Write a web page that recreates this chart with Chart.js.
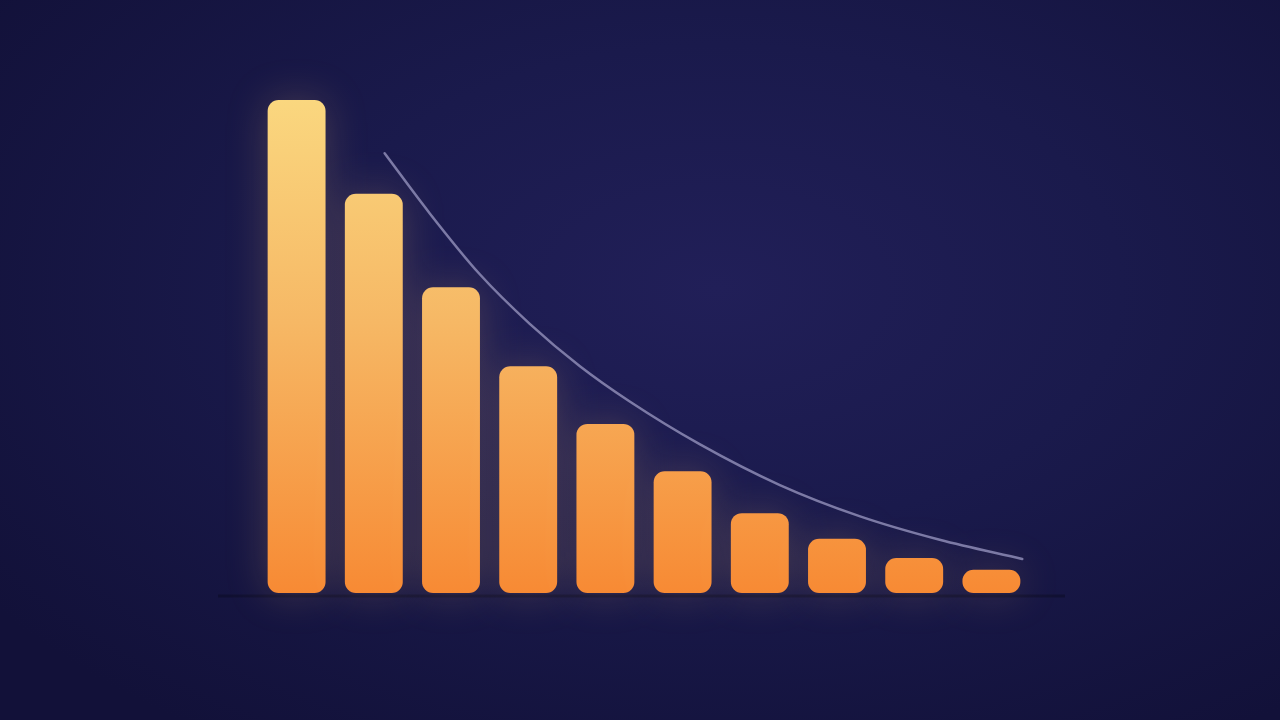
<!DOCTYPE html>
<html>
<head>
<meta charset="utf-8">
<script src="https://cdn.jsdelivr.net/npm/chart.js@4"></script>
<style>
  html, body { margin: 0; padding: 0; }
  body {
    width: 1280px; height: 720px; overflow: hidden;
    background: radial-gradient(ellipse 70% 75% at 56% 40%, #211f58 0%, #1a1a4c 45%, #121139 100%);
  }
  #wrap { position: relative; width: 1280px; height: 720px; }
</style>
</head>
<body>
<div id="wrap"><canvas id="chart"></canvas></div>
<script>
// Bar categories and heights (top bar = 100)
const categories = ['1', '2', '3', '4', '5', '6', '7', '8', '9', '10'];
const barValues = [100, 81, 62, 46, 34.3, 24.7, 16.2, 11, 7.1, 4.7];

// Trend curve, x in category-index units
const curveX = [1.14, 1.72, 2.37, 3.02, 3.67, 4.31, 5.22, 6.26, 7.29, 8.33, 9.40];
const curveY = [89.2, 77.1, 64.7, 54.6, 46.0, 38.9, 30.2, 21.9, 15.6, 10.8, 6.9];

// vertical gradient across the plot, yellow at top to orange at base
function barGradient(context) {
    const chart = context.chart;
    const area = chart.chartArea;
    if (!area) return '#f7a04a';
    const g = chart.ctx.createLinearGradient(0, area.top, 0, area.bottom);
    g.addColorStop(0, '#fad77f');
    g.addColorStop(0.45, '#f6b865');
    g.addColorStop(1, '#f78a34');
    return g;
}

// soft glow behind bars + dark baseline
const glowPlugin = {
    id: 'glow',
    beforeDatasetDraw(chart, args) {
        if (args.index !== 0) return;
        const ctx = chart.ctx;
        ctx.save();
        ctx.shadowColor = 'rgba(250, 190, 110, 0.2)';
        ctx.shadowBlur = 40;
    },
    afterDatasetDraw(chart, args) {
        if (args.index !== 0) return;
        chart.ctx.restore();
    },
    beforeDatasetsDraw(chart) {
        const ctx = chart.ctx;
        const area = chart.chartArea;
        const y = chart.scales.y.getPixelForValue(0) + 3;
        ctx.save();
        ctx.strokeStyle = 'rgba(8, 8, 30, 0.45)';
        ctx.lineWidth = 3;
        ctx.beginPath();
        ctx.moveTo(area.left - 40, y);
        ctx.lineTo(area.right + 35, y);
        ctx.stroke();
        ctx.restore();
    }
};

const ctx = document.getElementById('chart');
new Chart(ctx, {
    data: {
        labels: categories,
        datasets: [{
            type: 'bar',
            data: barValues,
            backgroundColor: barGradient,
            borderRadius: 11,
            borderSkipped: false,
            grouped: false,
            barPercentage: 0.75,
            categoryPercentage: 1,
            clip: false,
            order: 2
        }, {
            type: 'line',
            xAxisID: 'x2',
            data: curveX.map((x, i) => ({ x: x, y: curveY[i] })),
            borderColor: 'rgba(135, 133, 175, 0.9)',
            borderWidth: 2.5,
            borderCapStyle: 'round',
            pointRadius: 0,
            cubicInterpolationMode: 'monotone',
            fill: false,
            clip: false,
            order: 1
        }]
    },
    options: {
        responsive: true,
        maintainAspectRatio: false,
        animation: false,
        layout: { padding: { left: 258, right: 250, top: 100, bottom: 127 } },
        scales: {
            x: { display: false, offset: true },
            x2: { type: 'linear', display: false, min: -0.5, max: 9.5 },
            y: { display: false, min: 0, max: 100 }
        },
        plugins: {
            legend: { display: false },
            tooltip: { enabled: false }
        }
    },
    plugins: [glowPlugin]
});
</script>
</body>
</html>
